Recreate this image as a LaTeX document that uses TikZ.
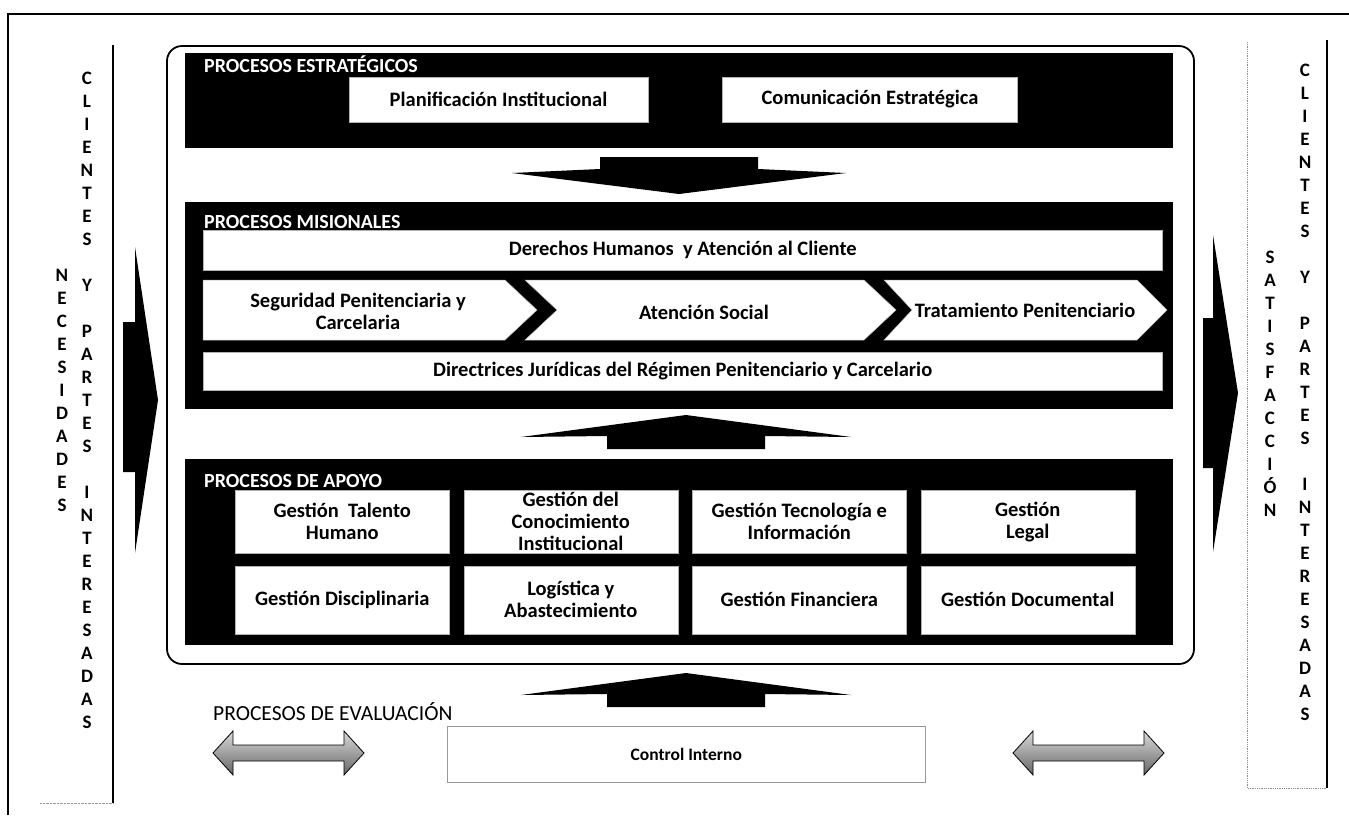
\documentclass[tikz,border=0pt]{standalone}
\usepackage{fontspec}
\setmainfont{Carlito}
\usetikzlibrary{positioning}
\tikzset{
  every node/.style={inner sep=0pt},
  panel/.style={fill=black, anchor=north west},
  tag/.style={text=white, anchor=base west, font=\fontsize{20}{23}\selectfont\bfseries},
  boxfont/.style={font=\fontsize{20.5}{22}\selectfont\bfseries},
  cell/.style={boxfont, fill=white, draw=black!30, line width=0.5pt, align=center},
  gridcell/.style={cell, minimum width=214pt},
  chevron/.style={fill=white, draw=black!30, line width=0.5pt},
  letters/.style={anchor=north, align=center, font=\fontsize{19}{23}\selectfont\bfseries},
  blockarrow/.style={fill=black},
  twoway/.style={draw=black, line width=0.8pt, top color=black!15, bottom color=black!60}
}

\begin{document}
\begin{tikzpicture}[x=1pt, y=-1pt]
  \useasboundingbox (0,0) rectangle (1349,815);

  % page frame
  \draw[line width=1.2pt] (8,815) -- (8,14) -- (1349,14);

  % left column
  \draw[line width=1.8pt] (113,45) -- (113,803);
  \draw[black!40, densely dotted] (40,803) -- (113,803);
  \node (needs) [letters] at (62,269) {N\\E\\C\\E\\S\\I\\D\\A\\D\\E\\S};
  \node (clientsin) [letters] at (87,72) {C\\L\\I\\E\\N\\T\\E\\S\\[23pt]Y\\[23pt]P\\A\\R\\T\\E\\S\\[23pt]I\\N\\T\\E\\R\\E\\S\\A\\D\\A\\S};
  \fill[blockarrow] (123,322) -- (135,322) -- (135,247) -- (158,400) -- (135,553) -- (135,472) -- (123,472) -- cycle;

  % right column
  \draw[black!45, densely dotted, line width=0.8pt] (1247,42) -- (1247,788) -- (1327,788);
  \draw[line width=1.8pt] (1327,40) -- (1327,788);
  \node (satisfaction) [letters] at (1270,251) {S\\A\\T\\I\\S\\F\\A\\C\\C\\I\\Ó\\N};
  \node (clientsout) [letters] at (1305,64) {C\\L\\I\\E\\N\\T\\E\\S\\[23pt]Y\\[23pt]P\\A\\R\\T\\E\\S\\[23pt]I\\N\\T\\E\\R\\E\\S\\A\\D\\A\\S};
  \fill[blockarrow] (1203,318) -- (1213,318) -- (1213,235) -- (1238,393) -- (1213,552) -- (1213,468) -- (1203,468) -- cycle;

  % process map
  \draw[line width=1.8pt, rounded corners=15pt] (167,46) rectangle (1194,664);

  % strategic
  \node (strategic) [panel, minimum width=988pt, minimum height=95pt] at (185,53) {};
  \node (tagstrategic) [tag] at (204,72) {PROCESOS ESTRATÉGICOS};
  \node (planning) [cell, minimum width=299pt, minimum height=45pt] at (498.5,99.5) {Planificación Institucional};
  \node (communication) [cell, minimum width=295pt, minimum height=45pt, right=74pt of planning] {Comunicación Estratégica};

  \fill[blockarrow] (600,157) -- (758,157) -- (758,169) -- (846,173) -- (679,194) -- (512,173) -- (600,169) -- cycle;

  % missional
  \node (missional) [panel, minimum width=988pt, minimum height=207pt] at (185,202) {};
  \node (tagmissional) [tag] at (204,228) {PROCESOS MISIONALES};
  \node (rights) [cell, minimum width=959pt, minimum height=40pt, anchor=north west] at (203,230) {Derechos Humanos\ \ y Atención al Cliente};
  \filldraw[chevron] (203,280) -- (505,280) -- (537,310) -- (505,340) -- (203,340) -- cycle;
  \filldraw[chevron] (525,280) -- (864,280) -- (896,310) -- (864,340) -- (525,340) -- (557,310) -- cycle;
  \filldraw[chevron] (884,280) -- (1137,280) -- (1167,310) -- (1137,340) -- (884,340) -- (912,310) -- cycle;
  \node (security) [boxfont, align=center] at (358,311) {Seguridad Penitenciaria y\\Carcelaria};
  \node (social) [boxfont] at (704,312) {Atención Social};
  \node (treatment) [boxfont] at (1025,310) {Tratamiento Penitenciario};
  \node (guidelines) [cell, minimum width=959pt, minimum height=38pt, anchor=north west] at (203,352) {Directrices Jurídicas del Régimen Penitenciario y Carcelario};

  % support
  \node (support) [panel, minimum width=988pt, minimum height=186pt] at (185,459) {};
  \node (tagsupport) [tag] at (204,487) {PROCESOS DE APOYO};
  \node (talent) [gridcell, minimum height=63pt, anchor=north west] at (235,490) {Gestión\ \ Talento\\Humano};
  \node (knowledge) [gridcell, minimum height=63pt, right=14pt of talent] {Gestión del\\Conocimiento\\Institucional};
  \node (technology) [gridcell, minimum height=63pt, right=14pt of knowledge] {Gestión Tecnología e\\Información};
  \node (legal) [gridcell, minimum height=63pt, right=14pt of technology] {Gestión\\Legal};
  \node (discipline) [gridcell, minimum height=68pt, below=12pt of talent] {Gestión Disciplinaria};
  \node (logistics) [gridcell, minimum height=68pt, right=14pt of discipline] {Logística y\\Abastecimiento};
  \node (finance) [gridcell, minimum height=68pt, right=14pt of logistics] {Gestión Financiera};
  \node (documents) [gridcell, minimum height=68pt, right=14pt of finance] {Gestión Documental};

  % upward arrows
  \foreach \ty in {415,673} {
    \fill[blockarrow] (686,\ty) -- (851,{\ty+22}) -- (765,{\ty+21}) -- (765,{\ty+34})
      -- (607,{\ty+34}) -- (607,{\ty+21}) -- (521,{\ty+22}) -- cycle;
  }

  % evaluation
  \node (evaluation) [anchor=base west, font=\fontsize{21.5}{24}\selectfont] at (213,720) {PROCESOS DE EVALUACIÓN};
  \node (control) [cell, draw=black!40, minimum width=478pt, minimum height=56pt, anchor=north west, font=\fontsize{17.5}{20}\selectfont\bfseries] at (447,726) {Control Interno};
  \foreach \xa in {213,1013} {
    \path[twoway] (\xa,753) -- ({\xa+20},731) -- ({\xa+20},745) -- ({\xa+131},745) -- ({\xa+131},731)
      -- ({\xa+151},753) -- ({\xa+131},775) -- ({\xa+131},761) -- ({\xa+20},761) -- ({\xa+20},775) -- cycle;
  }
\end{tikzpicture}
\end{document}
